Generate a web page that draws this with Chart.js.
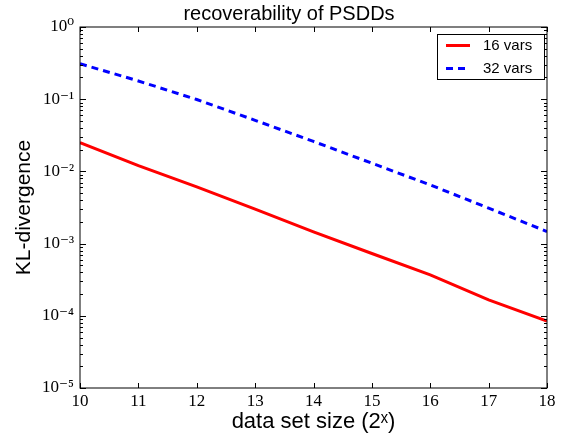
<!DOCTYPE html>
<html>
<head>
<meta charset="utf-8">
<script src="https://cdn.jsdelivr.net/npm/chart.js@4.4.1/dist/chart.umd.min.js"></script>
<style>
  body { margin: 0; background: #fff; }
  #wrap { width: 566px; height: 437px; }
</style>
</head>
<body>
<div id="wrap"><canvas id="klChart"></canvas></div>
<script>
const sizes = [10, 11, 12, 13, 14, 15, 16, 17, 18];
const kl16 = [0.025, 0.012, 0.0061, 0.0030, 0.00145, 0.00073, 0.00037, 0.000166, 0.0000848];
const kl32 = [0.31, 0.179, 0.099, 0.051, 0.026, 0.013, 0.0065, 0.0031, 0.00147];
const decades = [-5, -4, -3, -2, -1, 0];
const seriesLabels = ["16 vars", "32 vars"];

const SANS = "'Liberation Sans', Arial, sans-serif";
const SERIF = "'Liberation Serif', 'DejaVu Serif', serif";
const sup = { "0": "⁰", "1": "¹", "2": "²", "3": "³", "4": "⁴", "5": "⁵", "-": "⁻" };

function toPoints(ys) {
  return sizes.map((x, i) => ({ x: x, y: ys[i] }));
}

// matplotlib-ish frame: box all round, ticks pointing inward, title and legend box
const framePlugin = {
  id: "frame",
  afterDraw(chart) {
    const { ctx, chartArea: a, scales } = chart;
    const xs = scales.x, ys = scales.y;
    ctx.save();
    ctx.strokeStyle = "#000";
    ctx.lineWidth = 1;
    ctx.strokeRect(a.left, a.top, a.right - a.left, a.bottom - a.top);

    ctx.beginPath();
    xs.ticks.forEach(t => {
      const px = Math.round(xs.getPixelForValue(t.value)) + 0.5;
      ctx.moveTo(px, a.bottom); ctx.lineTo(px, a.bottom - 5);
      ctx.moveTo(px, a.top); ctx.lineTo(px, a.top + 5);
    });
    decades.forEach(e => {
      for (let k = 1; k <= 9; k++) {
        if (e === 0 && k > 1) break;
        const py = Math.round(ys.getPixelForValue(k * Math.pow(10, e))) + 0.5;
        const len = k === 1 ? 6 : 3;
        ctx.moveTo(a.left, py); ctx.lineTo(a.left + len, py);
        ctx.moveTo(a.right, py); ctx.lineTo(a.right - len, py);
      }
    });
    ctx.stroke();

    // title
    ctx.fillStyle = "#000";
    ctx.font = "20px " + SANS;
    ctx.textAlign = "center";
    ctx.textBaseline = "middle";
    ctx.fillText("recoverability of PSDDs", 289, 14);

    // legend
    const lx = 437, ly = 34, lw = 107, lh = 45;
    ctx.fillStyle = "#fff";
    ctx.fillRect(lx, ly, lw, lh);
    ctx.strokeRect(lx + 0.5, ly + 0.5, lw, lh);
    chart.data.datasets.forEach((ds, i) => {
      const yy = ly + 11.5 + i * 23;
      ctx.strokeStyle = ds.borderColor;
      ctx.lineWidth = 3;
      ctx.setLineDash(ds.borderDash || []);
      ctx.beginPath();
      ctx.moveTo(lx + 9, yy); ctx.lineTo(lx + 33, yy);
      ctx.stroke();
      ctx.setLineDash([]);
      ctx.fillStyle = "#000";
      ctx.font = "15px " + SANS;
      ctx.textAlign = "left";
      ctx.fillText(ds.label, lx + 46, yy);
    });
    ctx.restore();
  }
};

new Chart(document.getElementById("klChart"), {
  type: "line",
  data: {
    datasets: [
      {
        label: seriesLabels[0],
        data: toPoints(kl16),
        borderColor: "#ff0000",
        borderWidth: 3,
        pointRadius: 0,
        tension: 0
      },
      {
        label: seriesLabels[1],
        data: toPoints(kl32),
        borderColor: "#0000ff",
        borderWidth: 3,
        borderDash: [7, 5],
        pointRadius: 0,
        tension: 0
      }
    ]
  },
  plugins: [framePlugin],
  options: {
    animation: false,
    responsive: true,
    maintainAspectRatio: false,
    layout: { padding: { top: 27, right: 19, left: 0, bottom: 0 } },
    plugins: {
      legend: { display: false },
      title: { display: false },
      tooltip: { enabled: false }
    },
    scales: {
      x: {
        type: "linear",
        min: 10,
        max: 18,
        afterFit(scale) { scale.height = 49; },
        grid: { display: false, drawTicks: false },
        border: { display: false },
        ticks: {
          stepSize: 1,
          padding: 3,
          color: "#000",
          font: { family: SERIF, size: 17 }
        },
        title: {
          display: true,
          text: "data set size (2ˣ)",
          color: "#000",
          font: { family: SANS, size: 22 },
          padding: { top: 0, bottom: 2 }
        }
      },
      y: {
        type: "logarithmic",
        min: 1e-5,
        max: 1,
        afterFit(scale) { scale.width = 80; },
        afterBuildTicks(scale) {
          scale.ticks = decades.map(e => ({ value: Math.pow(10, e) }));
        },
        grid: { display: false, drawTicks: false },
        border: { display: false },
        ticks: {
          padding: 6,
          color: "#000",
          font: { family: SERIF, size: 17 },
          callback(value) {
            const e = String(Math.round(Math.log10(value)));
            return "10" + e.split("").map(c => sup[c]).join("");
          }
        },
        title: {
          display: true,
          text: "KL-divergence",
          color: "#000",
          font: { family: SANS, size: 21 },
          padding: { top: 12, bottom: 0 }
        }
      }
    }
  }
});
</script>
</body>
</html>
